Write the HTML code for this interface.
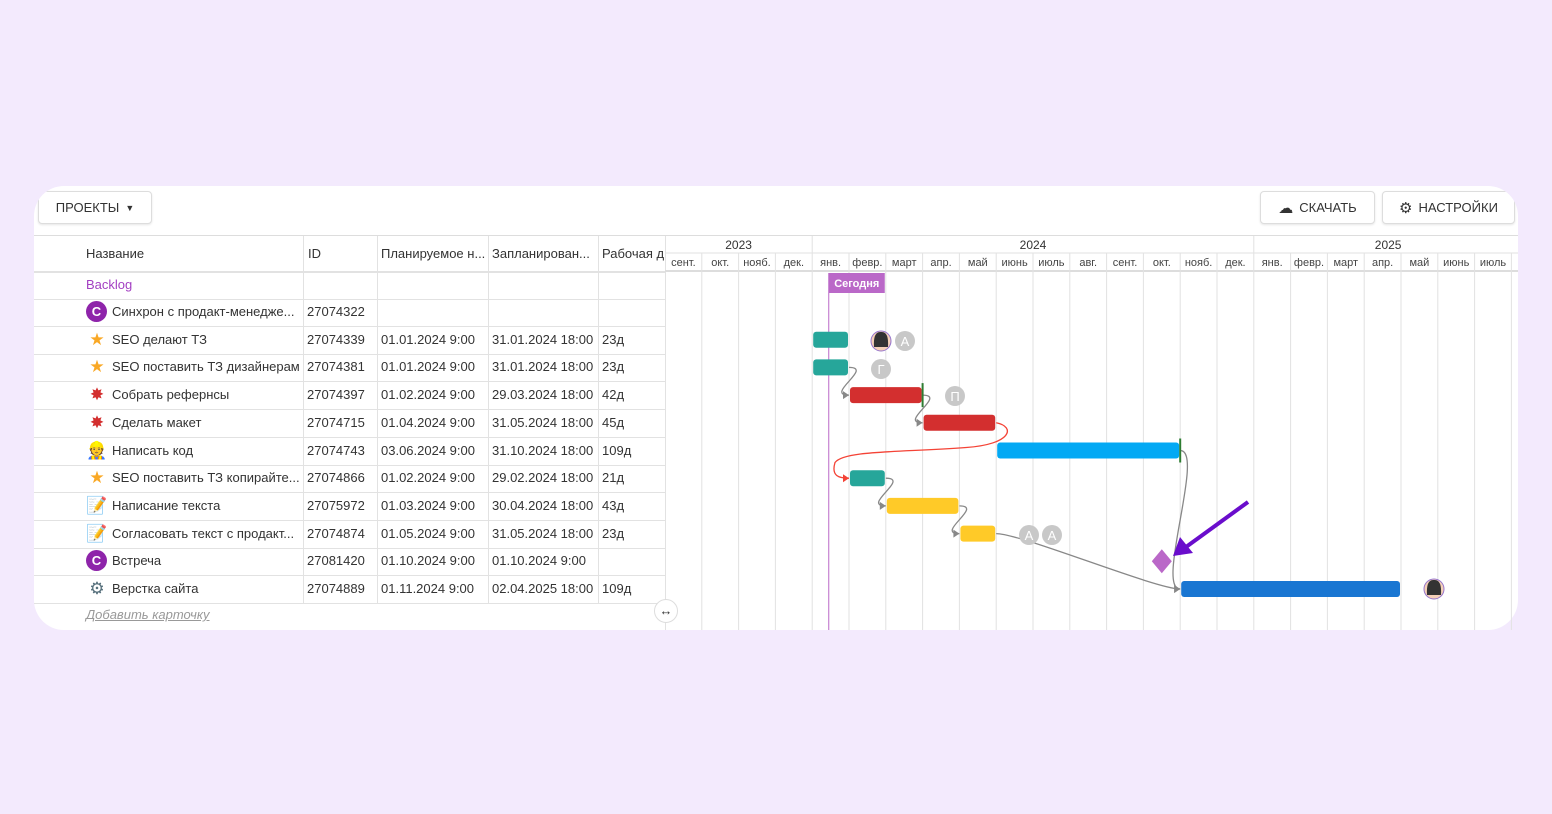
<!DOCTYPE html>
<html><head><meta charset="utf-8">
<style>
body{margin:0;width:1552px;height:814px;background:#f3eafd;font-family:"Liberation Sans",sans-serif;overflow:hidden;position:relative}
.card{position:absolute;left:34px;top:186px;width:1484px;height:444px;background:#fff;border-radius:30px;overflow:hidden}
.btn{position:absolute;border:1px solid #ddd;border-radius:4px;background:#fff;font-size:13px;color:#333;box-shadow:0 1px 2px rgba(0,0,0,.1);display:flex;align-items:center;justify-content:center;gap:6px}
.t{position:absolute;font-size:13px;color:#333;white-space:nowrap}
.hl{position:absolute;height:1px;background:#e2e2e2}
.vl{position:absolute;width:1px;background:#e2e2e2}
</style></head><body>
<div class="card">
<div class="btn" style="left:4px;top:5px;width:112px;height:31px">ПРОЕКТЫ <span style="font-size:9px">▼</span></div>
<div class="btn" style="left:1226px;top:5px;width:113px;height:31px"><span style="font-size:15px">☁</span> СКАЧАТЬ</div>
<div class="btn" style="left:1348px;top:5px;width:131px;height:31px"><span style="font-size:15px">⚙</span> НАСТРОЙКИ</div>
</div>
<div id="tbl"></div>
<svg id="g" width="1552" height="814" style="position:absolute;left:0;top:0"></svg>
<script>
const names=["Синхрон с продакт-менедже...","SEO делают ТЗ","SEO поставить ТЗ дизайнерам","Собрать рефернсы","Сделать макет","Написать код","SEO поставить ТЗ копирайте...","Написание текста","Согласовать текст с продакт...","Встреча","Верстка сайта"];
const ids=["27074322","27074339","27074381","27074397","27074715","27074743","27074866","27075972","27074874","27081420","27074889"];
const starts=["","01.01.2024 9:00","01.01.2024 9:00","01.02.2024 9:00","01.04.2024 9:00","03.06.2024 9:00","01.02.2024 9:00","01.03.2024 9:00","01.05.2024 9:00","01.10.2024 9:00","01.11.2024 9:00"];
const ends=["","31.01.2024 18:00","31.01.2024 18:00","29.03.2024 18:00","31.05.2024 18:00","31.10.2024 18:00","29.02.2024 18:00","30.04.2024 18:00","31.05.2024 18:00","01.10.2024 9:00","02.04.2025 18:00"];
const durs=["","23д","23д","42д","45д","109д","21д","43д","23д","","109д"];
const icons=["C","★","★","✸","✸","👷","★","📝","📝","C","⚙"];
const iconColors=["#8e24aa","#f9a825","#f9a825","#d32f2f","#d32f2f","#f0a030","#f9a825","#7a8aa0","#7a8aa0","#8e24aa","#546e7a"];
const months=["сент.","окт.","нояб.","дек.","янв.","февр.","март","апр.","май","июнь","июль","авг.","сент.","окт.","нояб.","дек.","янв.","февр.","март","апр.","май","июнь","июль"];
const years=["2023","2024","2025"];
const yearStartIdx=[0,4,16];
const barStart=[null,4,4,5,7,9,5,6,8,null,14];
const barEnd=[null,5,5,7,9,14,6,8,9,null,20];
const barColors=[null,"#26a69a","#26a69a","#d32f2f","#d32f2f","#03a9f4","#26a69a","#ffca28","#ffca28",null,"#1976d2"];
const milestoneRow=9, milestoneAt=13.5, todayAt=4.45;
const X0=665,MW=36.8,Y0=312,RH=27.7;
const x=m=>X0+m*MW, y=i=>Y0+i*RH;
const tbl=document.getElementById('tbl'), g=document.getElementById('g');
function div(cls,st,txt,name,inter){const d=document.createElement('div');d.className=cls;d.style.cssText=st;if(txt!=null)d.textContent=txt;


tbl.appendChild(d);return d;}
function sv(tag,a,name){const e=document.createElementNS('http://www.w3.org/2000/svg',tag);for(const k in a)e.setAttribute(k,a[k]);


g.appendChild(e);return e;}
div('hl','left:34px;top:235px;width:1484px;background:#ddd',null,'header-top-line');
div('hl','left:34px;top:271px;width:631px;height:2px',null,'header-bottom-line');
const cols=[303,377,488,598,665];
cols.forEach((c,i)=>div('vl',`left:${c}px;top:236px;height:${i==4?394:64}px`,null,'column-divider'));
cols.slice(0,4).forEach(c=>div('vl',`left:${c}px;top:299px;height:305px`,null,'column-divider'));
[["Название",86],["ID",308],["Планируемое н...",381],["Запланирован...",492],["Рабочая д",602]].forEach(h=>div('t',`left:${h[1]}px;top:246px`,h[0],'column-header'));
div('t','left:86px;top:277px;color:#a33fc2',"Backlog",'backlog-group');
div('hl','left:34px;top:299px;width:631px',null,'row-line');
names.forEach((n,i)=>{const cy=y(i);
 div('hl',`left:34px;top:${Math.round(cy+14)}px;width:631px`,null,'row-line');
 const ic=div('t',`left:86px;top:${cy-11}px;width:22px;height:22px;text-align:center;font-size:17px;line-height:22px;color:${iconColors[i]}`,icons[i],'task-icon');
 if(icons[i]=="C"){ic.style.cssText+=`;background:${iconColors[i]};color:#fff;border-radius:50%;font-size:13px;font-weight:bold;width:21px;height:21px;line-height:21px`;}
 div('t',`left:112px;top:${cy-8}px`,n,'task-name',true);
 div('t',`left:307px;top:${cy-8}px`,ids[i],'task-id');
 div('t',`left:381px;top:${cy-8}px`,starts[i],'task-start');
 div('t',`left:492px;top:${cy-8}px`,ends[i],'task-end');
 div('t',`left:602px;top:${cy-8}px`,durs[i],'task-duration');
});
div('t','left:86px;top:607px;color:#999;font-style:italic;text-decoration:underline',"Добавить карточку",'add-card-link',true);
div('t','left:654px;top:599px;width:22px;height:22px;border-radius:50%;background:#fff;border:1px solid #ddd;text-align:center;line-height:22px;font-size:13px',"↔",'resize-handle',true);
sv('line',{x1:665,x2:1518,y1:253,y2:253,stroke:'#e2e2e2'},'year-divider');
sv('line',{x1:665,x2:1518,y1:271,y2:271,stroke:'#ddd','stroke-width':2},'header-bottom');
months.forEach((m,i)=>{
 sv('line',{x1:x(i+1),x2:x(i+1),y1:i+1==4||i+1==16?236:253,y2:630,stroke:'#e2e2e2'},'month-gridline');
 const t=sv('text',{x:x(i)+MW/2,y:266,'text-anchor':'middle','font-size':11,fill:'#444'},'month-label');t.textContent=m;});
years.forEach((yv,i)=>{const s=yearStartIdx[i],e=i<2?yearStartIdx[i+1]:23.3;
 const t=sv('text',{x:(x(s)+x(e))/2,y:249,'text-anchor':'middle','font-size':12,fill:'#333'},'year-label');t.textContent=yv;});
sv('line',{x1:x(todayAt),x2:x(todayAt),y1:273,y2:630,stroke:'#ba68c8'},'today-line');
sv('rect',{x:x(todayAt),y:273,width:56,height:20,fill:'#ba68c8'},'today-label-box');
const tt=sv('text',{x:x(todayAt)+28,y:287,'text-anchor':'middle','font-size':11,'font-weight':'bold',fill:'#fff'},'today-label');tt.textContent="Сегодня";
const deps=[[2,3,'#888'],[3,4,'#888'],[4,6,'#f44336'],[6,7,'#888'],[7,8,'#888'],[5,10,'#888'],[8,10,'#888']];
deps.forEach(d=>{const [a,b,c]=d;const x1=x(barEnd[a]),y1=y(a),x2=x(barStart[b]),y2=y(b);
 let p;
 if(x2<x1){const my=(y1+y2)/2;
  p=`M${x1} ${y1} C${x1+20} ${y1+4},${x1+15} ${my-6},${x1-30} ${my-3} C${x1-100} ${my+2},${x2-5} ${my},${x2-14} ${my+12} C${x2-18} ${y2-2},${x2-10} ${y2},${x2} ${y2}`;}
 else p=`M${x1} ${y1} C${x1+25} ${y1},${x2-25} ${y2},${x2} ${y2}`;
 sv('path',{d:p,fill:'none',stroke:c,'stroke-width':1.3},'dependency-link');
 sv('path',{d:`M${x2-6} ${y2-4}L${x2} ${y2}L${x2-6} ${y2+4}Z`,fill:c},'dependency-arrow');});
barStart.forEach((s,i)=>{if(s==null)return;
 sv('rect',{x:x(s)+1,y:y(i)-8,width:x(barEnd[i])-x(s)-2,height:16,rx:3,fill:barColors[i]},'task-bar');});
sv('line',{x1:x(7),x2:x(7),y1:y(3)-12,y2:y(3)+12,stroke:'#2e7d32','stroke-width':2},'deadline-marker');
sv('line',{x1:x(14),x2:x(14),y1:y(5)-12,y2:y(5)+12,stroke:'#2e7d32','stroke-width':2},'deadline-marker');
const mx=x(milestoneAt),my=y(milestoneRow);
sv('path',{d:`M${mx} ${my-12}L${mx+10} ${my}L${mx} ${my+12}L${mx-10} ${my}Z`,fill:'#ba68c8'},'milestone-diamond');
[[881,341,''],[905,341,'А'],[881,369,'Г'],[955,396,'П'],[1029,535,'А'],[1052,535,'А'],[1434,589,'']].forEach(a=>{
 sv('circle',{cx:a[0],cy:a[1],r:10,fill:a[2]?'#c8c8c8':'#f5d0b8',stroke:a[2]?'none':'#9575cd'},'assignee-avatar');
 if(a[2]){const t=sv('text',{x:a[0],y:a[1]+5,'text-anchor':'middle','font-size':13,fill:'#fff'},'assignee-initial');t.textContent=a[2];}
 else sv('path',{d:`M${a[0]-7} ${a[1]+6}Q${a[0]-8} ${a[1]-10} ${a[0]} ${a[1]-9}Q${a[0]+8} ${a[1]-10} ${a[0]+7} ${a[1]+6}Z`,fill:'#333'},'avatar-hair');});
sv('path',{d:'M1248 502L1186 547',stroke:'#6a0dcc','stroke-width':4,fill:'none'},'annotation-arrow');
sv('path',{d:'M1173 556L1180 537L1193 553Z',fill:'#6a0dcc'},'annotation-arrowhead');
</script>
</body></html>
